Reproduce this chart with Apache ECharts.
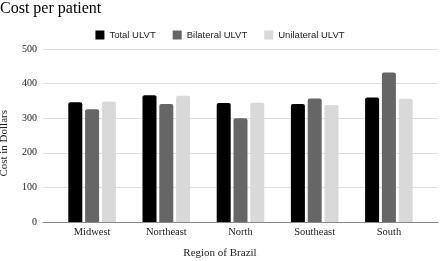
<!DOCTYPE html>
<html><head><meta charset="utf-8">
<script src="https://cdn.jsdelivr.net/npm/echarts@6/dist/echarts.min.js"></script>
<style>html,body{margin:0;padding:0;background:#fff}#c{width:440px;height:261px}</style>
</head><body><div id="c"></div>
<script>
const categories = ['Midwest','Northeast','North','Southeast','South'];
const totalULVT = [346, 366, 344, 341, 360];
const bilateralULVT = [326, 341, 300, 357, 432];
const unilateralULVT = [348, 365, 345, 338, 356];
const seriesNames = ['Total ULVT','Bilateral ULVT','Unilateral ULVT'];
const yTicks = [0,100,200,300,400,500];

const serif = 'Liberation Serif';
const sans = 'Liberation Sans';
const chart = echarts.init(document.getElementById('c'), null, {renderer:'canvas'});
chart.setOption({
  animation:false,
  backgroundColor:'#fff',
  title:{text:'Cost per patient',left:0,top:1,padding:0,textStyle:{fontFamily:serif,fontWeight:'normal',fontSize:16,color:'#000'}},
  legend:{top:25,left:'center',itemWidth:9,itemHeight:9,itemGap:17,icon:'rect',
    textStyle:{fontFamily:sans,fontSize:9.5,color:'#222'},data:seriesNames},
  grid:[
    {left:43,right:2,top:49,bottom:39,outerBoundsMode:'none',containLabel:false},
    {left:55,right:14,top:49,bottom:39,outerBoundsMode:'none',containLabel:false}
  ],
  graphic:[
    {type:'text',left:-1,top:110,rotation:Math.PI/2,
     style:{text:'Cost in Dollars',fontFamily:serif,fontSize:11,fill:'#222'}},
    {type:'text',left:'center',top:248,
     style:{text:'Region of Brazil',fontFamily:serif,fontSize:11,fill:'#222'}}
  ],
  xAxis:[
    {type:'value',gridIndex:0,min:0,max:1,show:true,axisLine:{show:true,onZero:false,lineStyle:{color:'#888',width:1}},
     axisTick:{show:false},axisLabel:{show:false},splitLine:{show:false}},
    {type:'category',gridIndex:1,data:categories,axisLine:{show:false},axisTick:{show:false},
     axisLabel:{fontFamily:serif,fontSize:10.5,color:'#222',margin:5}}
  ],
  yAxis:[
    {type:'value',gridIndex:0,min:yTicks[0],max:yTicks[yTicks.length-1],interval:100,
     axisLine:{show:false},axisTick:{show:false},
     axisLabel:{fontFamily:serif,fontSize:10,color:'#222',margin:6},
     splitLine:{lineStyle:{color:'#ddd',width:1}}},
    {type:'value',gridIndex:1,min:0,max:500,show:false}
  ],
  series:[
    {name:seriesNames[0],type:'bar',xAxisIndex:1,yAxisIndex:1,data:totalULVT,barWidth:14,barGap:'20%',
     itemStyle:{color:'#000',borderRadius:[2,2,0,0]}},
    {name:seriesNames[1],type:'bar',xAxisIndex:1,yAxisIndex:1,data:bilateralULVT,barWidth:14,barGap:'20%',
     itemStyle:{color:'#666',borderRadius:[2,2,0,0]}},
    {name:seriesNames[2],type:'bar',xAxisIndex:1,yAxisIndex:1,data:unilateralULVT,barWidth:14,barGap:'20%',
     itemStyle:{color:'#d9d9d9',borderRadius:[2,2,0,0]}}
  ]
});
</script></body></html>
